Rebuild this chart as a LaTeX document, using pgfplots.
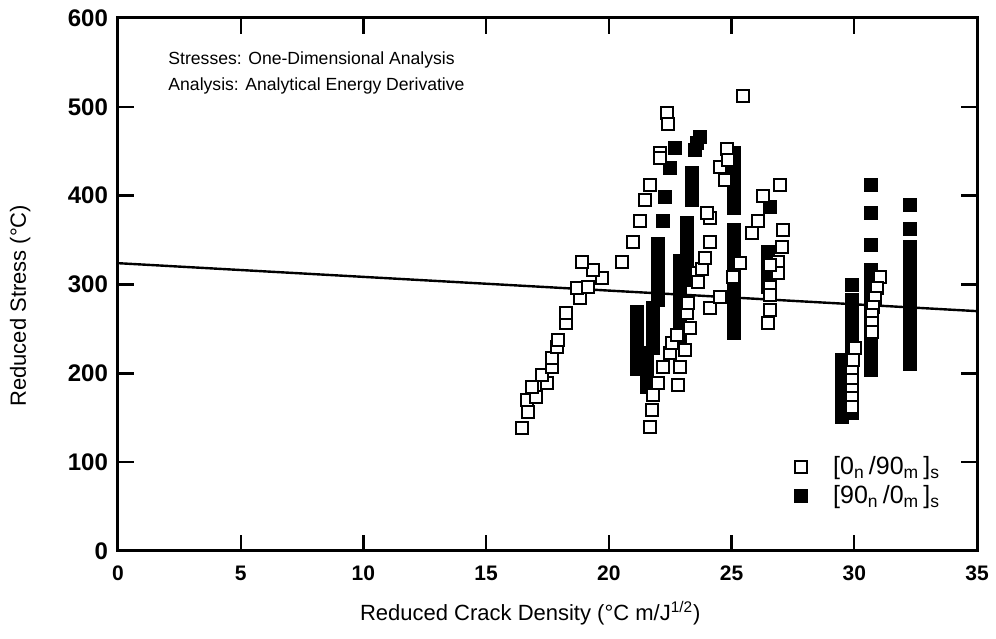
\documentclass[border=0pt]{standalone}
\usepackage{fontspec}
\setmainfont{Liberation Sans}
\usepackage{pgfplots}
\pgfplotsset{compat=1.18}
\usepackage{pgfplotstable}
\usetikzlibrary{calc}

\pgfplotstableread{
x y
16.46 138
16.70 156
16.66 170
17.03 173
16.86 185
17.47 189
17.27 198
17.68 207
17.68 217
17.88 230
17.92 237
18.25 257
18.25 268
18.82 285
18.70 296
19.14 297
19.71 307
19.35 316
18.90 325
20.53 325
20.98 348
21.26 372
21.47 395
21.67 412
22.08 448
22.08 442
22.36 493
22.40 481
25.46 512
21.67 140
21.75 159
21.79 176
22.00 189
22.20 207
22.48 223
22.57 234
22.77 243
23.18 268
23.22 279
23.30 251
22.81 187
22.89 207
23.10 226
23.58 313
23.79 318
23.63 303
23.91 330
24.11 348
24.11 375
23.99 380
24.11 273
24.52 286
25.05 308
24.52 432
24.81 453
24.85 440
24.72 418
25.34 324
25.82 358
26.07 372
26.27 400
26.97 412
27.09 361
27.05 342
26.88 325
26.88 313
26.56 322
26.56 297
26.56 288
26.56 271
26.48 257
30.02 228
29.94 215
29.90 201
29.90 192
29.90 181
29.90 172
29.90 162
31.04 308
30.92 296
30.84 285
30.75 275
30.71 266
30.71 257
30.71 246
}\opendata

\pgfplotstableread{
x y
21.14 205
21.14 213
21.14 221
21.14 229
21.14 237
21.14 245
21.14 253
21.14 261
21.14 269
21.55 185
21.55 193
21.55 201
21.55 209
21.55 217
21.55 223
21.80 228
21.80 236
21.80 244
21.80 252
21.80 260
21.80 268
21.80 274
22.00 282
22.00 290
22.00 298
22.00 306
22.00 314
22.00 322
22.00 330
22.00 338
22.00 346
22.20 372
22.28 398
22.48 431
22.69 454
22.90 240
22.90 248
22.90 256
22.90 264
22.90 272
22.90 280
22.90 288
22.90 296
22.90 304
22.90 312
22.90 320
22.90 327
23.18 305
23.18 313
23.18 321
23.18 329
23.18 337
23.18 345
23.18 353
23.18 361
23.18 369
23.38 395
23.38 403
23.38 411
23.38 419
23.38 425
23.50 451
23.60 459
23.70 466
25.10 245
25.10 253
25.10 261
25.10 269
25.10 277
25.10 285
25.10 293
25.10 301
25.10 309
25.10 317
25.10 325
25.10 333
25.10 345
25.10 353
25.10 361
25.10 386
25.10 395
25.10 403
25.10 411
25.10 419
25.10 427
25.10 435
25.10 443
25.10 448
26.48 297
26.48 305
26.48 313
26.48 321
26.48 329
26.48 337
26.56 387
29.50 151
29.50 159
29.50 167
29.50 175
29.50 183
29.50 191
29.50 199
29.50 207
29.50 215
29.90 155
29.90 163
29.90 171
29.90 179
29.90 187
29.90 195
29.90 203
29.90 211
29.90 219
29.90 227
29.90 235
29.90 243
29.90 251
29.90 259
29.90 267
29.90 282
29.90 299
30.70 204
30.70 212
30.70 220
30.70 228
30.70 236
30.70 244
30.70 252
30.70 260
30.70 268
30.70 276
30.70 284
30.70 292
30.70 300
30.70 308
30.70 316
30.70 344
30.70 380
30.70 412
32.26 211
32.26 219
32.26 227
32.26 235
32.26 243
32.26 251
32.26 259
32.26 267
32.26 275
32.26 283
32.26 291
32.26 299
32.26 307
32.26 315
32.26 323
32.26 331
32.26 342
32.26 363
32.26 389
}\filleddata

\begin{document}
\begin{tikzpicture}
\begin{axis}[
  scale only axis,
  width=429.5pt, height=266.5pt,
  xmin=0, xmax=35, ymin=0, ymax=600,
  xtick={0,5,...,35}, ytick={0,100,...,600},
  tick align=inside, tick pos=both,
  axis line style={line width=1.5pt},
  every tick/.style={black, line width=1.2pt},
  major tick length=8pt,
  /pgf/number format/assume math mode=true,
  xticklabel style={font=\fontsize{10.5}{12}\selectfont\bfseries, yshift=-4pt},
  yticklabel style={font=\fontsize{12}{14}\selectfont\bfseries, xshift=-1.5pt},
  xlabel={Reduced Crack Density (°C m/J\textsuperscript{1/2})},
  ylabel={Reduced Stress (°C)},
  xlabel style={at={(axis description cs:0.48,-0.116)}, anchor=center, font=\fontsize{11}{13}\selectfont},
  ylabel style={at={(axis description cs:-0.114,0.46)}, anchor=center, font=\fontsize{11}{13}\selectfont},
  legend style={at={(axis cs:27.3,116)}, anchor=north west, draw=none, fill=none,
    font=\fontsize{12.5}{14}\selectfont, row sep=0pt},
  legend cell align=left,
  reverse legend,
]
\addplot[black, line width=1.2pt, forget plot] coordinates {(0,324) (35,270)};
\addplot[only marks, mark=square*, mark size=3.2pt, mark options={draw=black, fill=black, line width=0.6pt}] table {\filleddata};
\addlegendentry{\hspace*{11pt}[90\textsubscript{n}\,/0\textsubscript{m}\,]\textsubscript{s}}
\addplot[only marks, mark=square*, mark size=3pt, mark options={draw=black, fill=white, line width=1pt}] table {\opendata};
\addlegendentry{\hspace*{11pt}[0\textsubscript{n}\,/90\textsubscript{m}\,]\textsubscript{s}}
\node[anchor=north west, align=left, inner sep=0pt, font=\fontsize{8.8}{13}\selectfont] at (axis cs:2.04,562)
  {Stresses: One-Dimensional Analysis\\Analysis: Analytical Energy Derivative};
\end{axis}
\pgfresetboundingbox
\path ($(current axis.south west)+(-59pt,-44pt)$) rectangle ($(current axis.north east)+(9.5pt,9pt)$);
\end{tikzpicture}
\end{document}
